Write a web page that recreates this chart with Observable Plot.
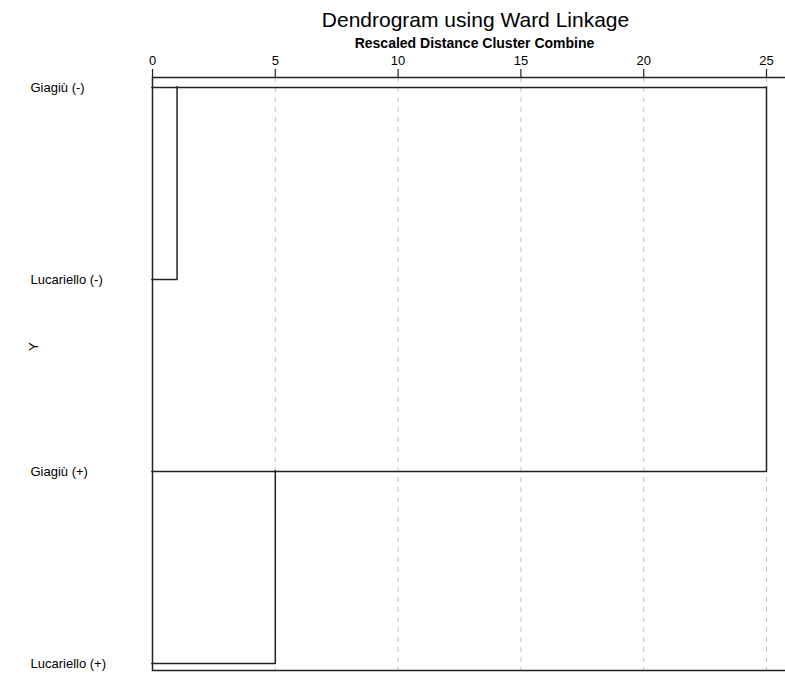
<!DOCTYPE html>
<html>
<head>
<meta charset="utf-8">
<script src="https://cdn.jsdelivr.net/npm/d3@7"></script>
<script src="https://cdn.jsdelivr.net/npm/@observablehq/plot@0.6"></script>
<style>
  html, body { margin: 0; padding: 0; background: #fff; }
</style>
</head>
<body>
<div id="chart"></div>
<script>
const title = "Dendrogram using Ward Linkage";
const subtitle = "Rescaled Distance Cluster Combine";
const yLabel = "Y";
const leaves = ["Giagiù (-)", "Lucariello (-)", "Giagiù (+)", "Lucariello (+)"];
const mergeA = ["Giagiù (-)", "Giagiù (+)", "Giagiù (-)"];
const mergeB = ["Lucariello (-)", "Lucariello (+)", "Giagiù (+)"];
const mergeHeight = [1, 5, 25];
const startA = [0, 0, 1];
const startB = [0, 0, 5];
const ticks = [0, 5, 10, 15, 20, 25];

const horiz = mergeA.flatMap((a, i) => [
  {y: a, x1: startA[i], x2: mergeHeight[i]},
  {y: mergeB[i], x1: startB[i], x2: mergeHeight[i]}
]);
const vert = mergeA.map((a, i) => ({x: mergeHeight[i], y1: a, y2: mergeB[i]}));
const mid = (ticks[0] + ticks[ticks.length - 1]) / 2;

const chart = Plot.plot({
  width: 785,
  height: 673,
  marginTop: 77,
  marginLeft: 152,
  marginRight: -3,
  marginBottom: 3,
  style: {fontFamily: "'Liberation Sans', Arial, sans-serif", fontSize: "13px", background: "#fff", color: "#000"},
  x: {domain: [ticks[0], ticks[ticks.length - 1]], range: [152, 766], axis: null},
  y: {type: "point", domain: leaves, range: [86, 663], padding: 0, axis: null},
  marks: [
    Plot.ruleX(ticks.slice(1), {stroke: "#c4c4c4", strokeDasharray: "5,5", strokeWidth: 1}),
    Plot.frame({stroke: "#222", strokeWidth: 1.5}),
    Plot.axisX(ticks, {anchor: "top", tickSize: 9, tickPadding: 4, label: null, fontSize: 13, stroke: "#222", strokeWidth: 1.2}),
    Plot.ruleY(horiz, {y: "y", x1: "x1", x2: "x2", stroke: "#222", strokeWidth: 1.5, strokeLinecap: "square"}),
    Plot.ruleX(vert, {x: "x", y1: "y1", y2: "y2", stroke: "#222", strokeWidth: 1.5, strokeLinecap: "square"}),
    Plot.text(leaves, {y: d => d, frameAnchor: "left", textAnchor: "start", dx: -122, fontSize: 13, fill: "#000"}),
    Plot.text([yLabel], {frameAnchor: "left", rotate: -90, dx: -119, dy: -23, fontSize: 13, fill: "#000"}),
    Plot.text([title], {x: () => mid, frameAnchor: "top", lineAnchor: "middle", dx: 16, dy: -57, fontSize: 21, fill: "#000"}),
    Plot.text([subtitle], {x: () => mid, frameAnchor: "top", lineAnchor: "middle", dx: 15, dy: -34, fontSize: 14, fontWeight: "bold", fill: "#000"})
  ]
});
document.getElementById("chart").append(chart);
</script>
</body>
</html>
